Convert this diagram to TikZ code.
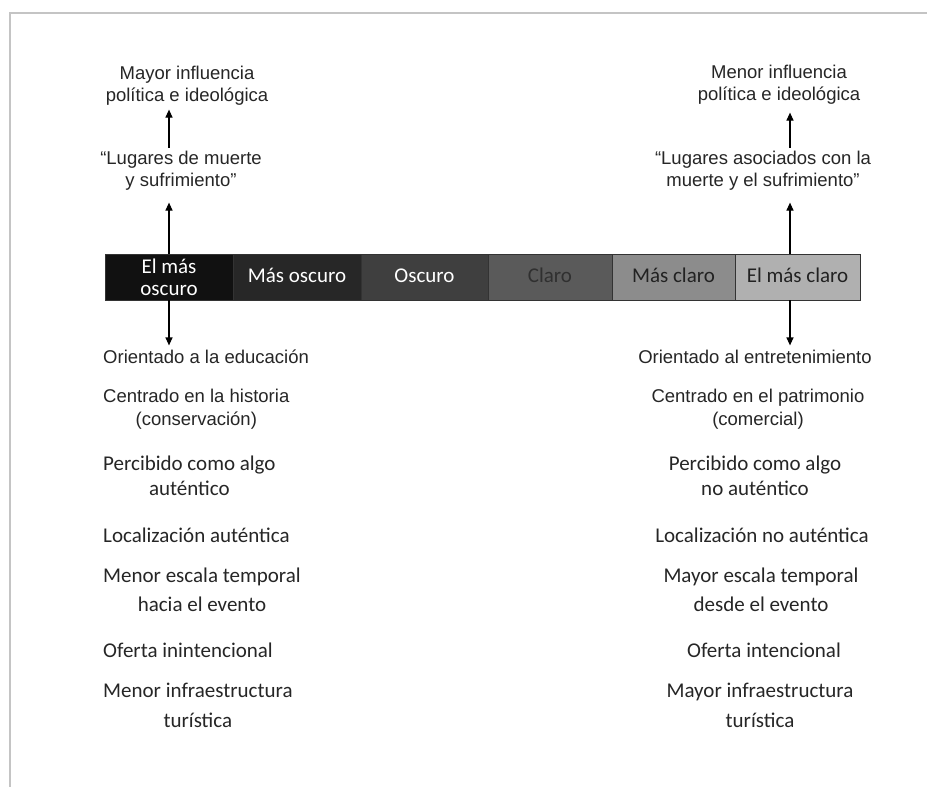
\documentclass[tikz,border=0pt]{standalone}
\usepackage{fontspec}
\newfontfamily\arialf{Liberation Sans}
\newfontfamily\calf{Carlito}
\usetikzlibrary{arrows.meta}
\definecolor{txt}{HTML}{262626}
\definecolor{frm}{HTML}{C4C4C4}
\definecolor{c1}{HTML}{111111}
\definecolor{c2}{HTML}{272727}
\definecolor{c3}{HTML}{3F3F3F}
\definecolor{c4}{HTML}{5A5A5A}
\definecolor{c5}{HTML}{8C8C8C}
\definecolor{c6}{HTML}{B0B0B0}
\tikzset{
  seg/.style={draw=black!80, line width=0.8pt, minimum height=46pt, inner sep=0pt, align=center,
    font=\calf\fontsize{21}{22}\selectfont},
  segone/.style={seg, text height=14pt, text depth=3pt},
  atx/.style={inner sep=0pt, align=center, text=txt, font=\arialf\fontsize{18.5}{22}\selectfont},
  ctx/.style={inner sep=0pt, align=center, text=txt, font=\calf\fontsize{21}{27}\selectfont},
  arr/.style={line width=1.2pt, -{Triangle[length=8pt,width=7pt]}},
}
\begin{document}
\begin{tikzpicture}[x=1pt,y=-1pt]
\useasboundingbox (0,0) rectangle (927,787);
\fill[white] (0,0) rectangle (927,787);
% frame
\draw[frm, line width=2pt] (10,787) -- (10,13) -- (927,13);
% bar
\node[seg, fill=c1, text=white, minimum width=128pt] (s1) at (169,277) {El más\\oscuro};
\node[segone, fill=c2, text=white, minimum width=128pt] (s2) at (297,277) {Más oscuro};
\node[segone, fill=c3, text=white, minimum width=127pt] (s3) at (424.5,277) {Oscuro};
\node[segone, fill=c4, text={rgb,255:red,48;green,48;blue,48}, minimum width=124pt] (s4) at (550,277) {Claro};
\node[segone, fill=c5, text={rgb,255:red,34;green,34;blue,34}, minimum width=123pt] (s5) at (673.5,277) {Más claro};
\node[segone, fill=c6, text={rgb,255:red,34;green,34;blue,34}, minimum width=125pt] (s6) at (797.5,277) {El más claro};
\coordinate (ax) at (790,0);
% top left
\node[atx] (mayL) at (187,86) {Mayor influencia\\política e ideológica};
\node[atx] (lugL) at (181,171) {“Lugares de muerte\\y sufrimiento”};
\draw[arr] (s1.north) -- ++(0,-51);
\draw[arr] (s1.north) ++(0,-106) -- ++(0,-38);
% top right
\node[atx] (mayR) at (779,85) {Menor influencia\\política e ideológica};
\node[atx] (lugR) at (763,171) {“Lugares asociados con la\\ muerte y el sufrimiento”};
\draw[arr] (s6.north -| ax) -- ++(0,-51);
\draw[arr] (s6.north -| ax) ++(0,-106) -- ++(0,-35);
% down arrows
\draw[arr] (s1.south) -- ++(0,45);
\draw[arr] (s6.south -| ax) -- ++(0,45);
% left column
\node[atx, anchor=west] (l1) at (103,357) {Orientado a la educación};
\node[atx, anchor=west, font=\arialf\fontsize{18.5}{23}\selectfont] (l2) at (103,409) {Centrado en la historia\\(conservación)};
\node[ctx, anchor=west, font=\calf\fontsize{21}{25}\selectfont] (l3) at (103,476) {Percibido como algo\\auténtico};
\node[ctx, anchor=west] (l4) at (103,535) {Localización auténtica};
\node[ctx, anchor=west, font=\calf\fontsize{21}{29}\selectfont] (l5) at (103,590) {Menor escala temporal\\hacia el evento};
\node[ctx, anchor=west] (l6) at (103,650) {Oferta inintencional};
\node[ctx, anchor=west, font=\calf\fontsize{21}{30}\selectfont] (l7) at (103,705) {Menor infraestructura\\turística};
% right column
\node[atx] (r1) at (755,357) {Orientado al entretenimiento};
\node[atx, font=\arialf\fontsize{18.5}{23}\selectfont] (r2) at (758,409) {Centrado en el patrimonio\\(comercial)};
\node[ctx, font=\calf\fontsize{21}{25}\selectfont] (r3) at (755,476) {Percibido como algo\\no auténtico};
\node[ctx] (r4) at (762,535) {Localización no auténtica};
\node[ctx, font=\calf\fontsize{21}{29}\selectfont] (r5) at (761,590) {Mayor escala temporal\\desde el evento};
\node[ctx] (r6) at (764,650) {Oferta intencional};
\node[ctx, font=\calf\fontsize{21}{30}\selectfont] (r7) at (760,705) {Mayor infraestructura\\turística};
\end{tikzpicture}
\end{document}
